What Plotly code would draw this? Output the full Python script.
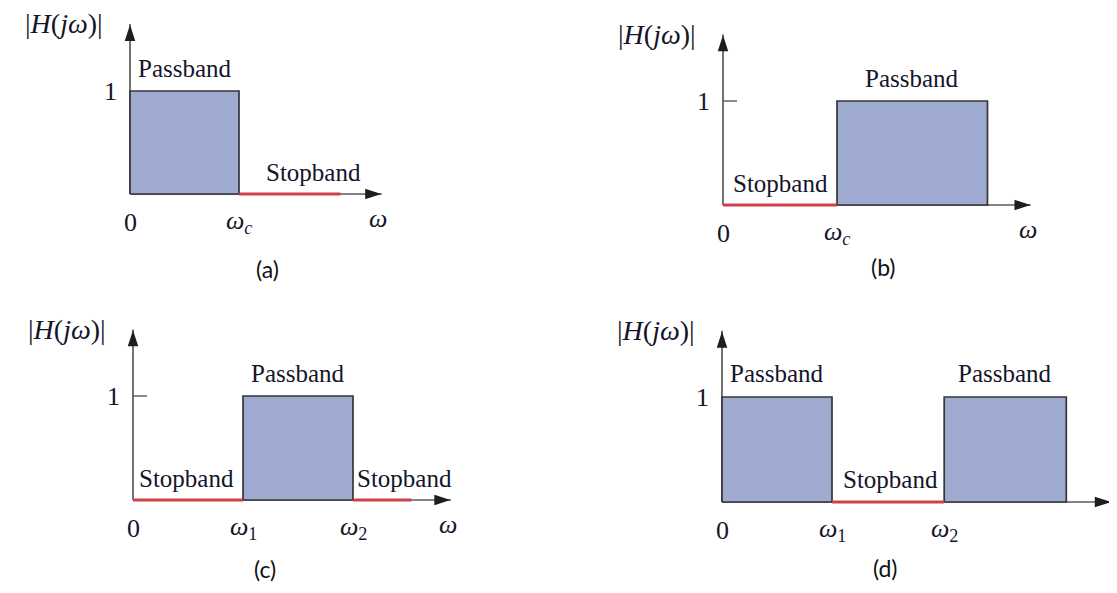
import plotly.graph_objects as go

W, H = 1117, 593          # reference window
OFF = 8                   # browser body margin
FW, FH = W - OFF, H - 2 * OFF

# ------------------------------------------------------------------
# Data (frequency in units of the first cut-off frequency, gain |H|)
# ------------------------------------------------------------------
gain = 1.0

# (a) low-pass
pass_a = [[0.0, 1.0]]
stop_a = [[1.0, 1.93]]
tick_pos_a = [0.0, 1.0]
tick_lab_a = ["0", "<i>ω<sub>c</sub></i>"]

# (b) high-pass
pass_b = [[1.0, 2.32]]
stop_b = [[0.0, 1.0]]
tick_pos_b = [0.0, 1.0]
tick_lab_b = ["0", "<i>ω<sub>c</sub></i>"]

# (c) band-pass
pass_c = [[1.0, 2.0]]
stop_c = [[0.0, 1.0], [2.0, 2.53]]
tick_pos_c = [0.0, 1.0, 2.0]
tick_lab_c = ["0", "<i>ω</i><sub>1</sub>", "<i>ω</i><sub>2</sub>"]

# (d) band-stop
pass_d = [[0.0, 1.0], [2.02, 3.13]]
stop_d = [[1.0, 2.02]]
tick_pos_d = [0.0, 1.0, 2.02]
tick_lab_d = ["0", "<i>ω</i><sub>1</sub>", "<i>ω</i><sub>2</sub>"]

captions = ["(a)", "(b)", "(c)", "(d)"]

# ------------------------------------------------------------------
# Layout / style (pixel calibration of each panel, not data)
# ------------------------------------------------------------------
FILL = "#9eaacf"
EDGE = "#363636"
RED = "#d0404a"
AXIS = "#5a5a5a"
HEAD = "#1e1e1e"
TXT = "#15152a"
SERIF = "Liberation Serif, Times New Roman, serif"
SANS = "Lato, Open Sans, sans-serif"

XS, YS = 550, 288  # quadrant split in figure pixels

panels = [
    dict(passb=pass_a, stopb=stop_a, tpos=tick_pos_a, tlab=tick_lab_a,
         ox=130, oy=194, sx=109, sy=103, xtip=2.37, ytip=1.71,
         box=(0, XS, 0, YS), stop_label_x=[1.68], tick1=False,
         cap=(267, 269)),
    dict(passb=pass_b, stopb=stop_b, tpos=tick_pos_b, tlab=tick_lab_b,
         ox=723, oy=205, sx=114, sy=104, xtip=2.76, ytip=1.70,
         box=(XS, FW, 0, YS), stop_label_x=[0.5], tick1=True,
         cap=(883, 267)),
    dict(passb=pass_c, stopb=stop_c, tpos=tick_pos_c, tlab=tick_lab_c,
         ox=133, oy=500, sx=110, sy=104, xtip=2.95, ytip=1.70,
         box=(0, XS, YS, FH), stop_label_x=[0.49, 2.47], tick1=True,
         cap=(265, 569)),
    dict(passb=pass_d, stopb=stop_d, tpos=tick_pos_d, tlab=tick_lab_d,
         ox=722, oy=502, sx=110, sy=105, xtip=3.6, ytip=1.69,
         box=(XS, FW, YS, FH), stop_label_x=[1.53], tick1=False,
         cap=(885, 568)),
]

fig = go.Figure()
annotations = []
layout_axes = {}

for k, p in enumerate(panels, start=1):
    xr = "x" if k == 1 else f"x{k}"
    yr = "y" if k == 1 else f"y{k}"
    xkey = "xaxis" if k == 1 else f"xaxis{k}"
    ykey = "yaxis" if k == 1 else f"yaxis{k}"
    ox, oy = p["ox"] - OFF, p["oy"] - OFF
    x0p, x1p, y0p, y1p = p["box"]
    layout_axes[xkey] = dict(
        domain=[x0p / FW, x1p / FW],
        range=[(x0p - ox) / p["sx"], (x1p - ox) / p["sx"]],
        visible=False, anchor=yr, fixedrange=True)
    layout_axes[ykey] = dict(
        domain=[1 - y1p / FH, 1 - y0p / FH],
        range=[(oy - y1p) / p["sy"], (oy - y0p) / p["sy"]],
        visible=False, anchor=xr, fixedrange=True)

    # axis lines
    fig.add_trace(go.Scatter(x=[0, p["xtip"] - 0.06], y=[0, 0], mode="lines",
                             line=dict(color=AXIS, width=1.7),
                             xaxis=xr, yaxis=yr, hoverinfo="skip"))
    fig.add_trace(go.Scatter(x=[0, 0], y=[0, p["ytip"] - 0.06], mode="lines",
                             line=dict(color=AXIS, width=1.7),
                             xaxis=xr, yaxis=yr, hoverinfo="skip"))
    if p["tick1"]:
        fig.add_trace(go.Scatter(x=[0, 14 / p["sx"]], y=[gain, gain], mode="lines",
                                 line=dict(color=AXIS, width=1.4),
                                 xaxis=xr, yaxis=yr, hoverinfo="skip"))

    # passbands
    for a, b in p["passb"]:
        fig.add_trace(go.Scatter(x=[a, a, b, b, a], y=[0, gain, gain, 0, 0],
                                 mode="lines", fill="toself", fillcolor=FILL,
                                 line=dict(color=EDGE, width=1.7),
                                 xaxis=xr, yaxis=yr, hoverinfo="skip"))
        annotations.append(dict(x=(a + b) / 2, y=1.22, xref=xr, yref=yr,
                                text="Passband", showarrow=False,
                                font=dict(family=SERIF, size=25, color=TXT)))
    # stopbands
    for (a, b), lx in zip(p["stopb"], p["stop_label_x"]):
        fig.add_trace(go.Scatter(x=[a, b], y=[0, 0], mode="lines",
                                 line=dict(color=RED, width=2.8),
                                 xaxis=xr, yaxis=yr, hoverinfo="skip"))
        annotations.append(dict(x=lx, y=0.21, xref=xr, yref=yr,
                                text="Stopband", showarrow=False,
                                font=dict(family=SERIF, size=25, color=TXT)))

    # arrowheads (markers at the axis ends)
    fig.add_trace(go.Scatter(x=[p["xtip"] - 7 / p["sx"]], y=[0], mode="markers",
                             marker=dict(symbol="arrow", angle=90, size=17,
                                         color=HEAD, line=dict(width=0)),
                             xaxis=xr, yaxis=yr, hoverinfo="skip", cliponaxis=False))
    fig.add_trace(go.Scatter(x=[0], y=[p["ytip"] - 7 / p["sy"]], mode="markers",
                             marker=dict(symbol="arrow", angle=0, size=17,
                                         color=HEAD, line=dict(width=0)),
                             xaxis=xr, yaxis=yr, hoverinfo="skip", cliponaxis=False))

    # tick labels on frequency axis
    for tp, tl in zip(p["tpos"], p["tlab"]):
        annotations.append(dict(x=tp, y=0, xref=xr, yref=yr, text=tl,
                                showarrow=False, yshift=-28,
                                font=dict(family=SERIF, size=26, color=TXT)))
    annotations.append(dict(x=p["xtip"], y=0, xref=xr, yref=yr,
                            text="<i>ω</i>", showarrow=False, xshift=-10,
                            yshift=-24, font=dict(family=SERIF, size=26, color=TXT)))
    # gain tick label
    annotations.append(dict(x=0, y=gain, xref=xr, yref=yr, text="1",
                            showarrow=False, xshift=-20,
                            font=dict(family=SERIF, size=26, color=TXT)))
    # y label
    annotations.append(dict(x=0, y=p["ytip"], xref=xr, yref=yr,
                            text="|<i>H</i>(<i>jω</i>)|", showarrow=False,
                            xshift=-66, yshift=-6,
                            font=dict(family=SERIF, size=28, color=TXT)))
    # caption
    annotations.append(dict(x=(p["cap"][0] - OFF) / FW, y=1 - (p["cap"][1] - OFF) / FH,
                            xref="paper", yref="paper", text=captions[k - 1],
                            xanchor="center", yanchor="middle",
                            showarrow=False,
                            font=dict(family=SANS, size=23, color="#111111")))

fig.update_layout(
    width=FW, height=FH, margin=dict(l=0, r=0, t=0, b=0),
    paper_bgcolor="white", plot_bgcolor="rgba(0,0,0,0)",
    showlegend=False, annotations=annotations, **layout_axes)

fig.write_html("out.html")
